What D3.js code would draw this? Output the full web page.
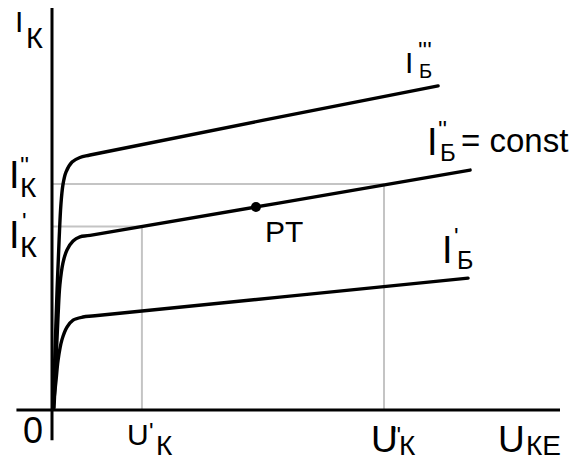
<!DOCTYPE html>
<html>
<head>
<meta charset="utf-8">
<script src="https://cdn.jsdelivr.net/npm/d3@7"></script>
<style>
  html, body { margin: 0; background: #fff; }
  svg { display: block; }
  text { font-family: "Liberation Sans", Arial, sans-serif; fill: #000; }
</style>
</head>
<body>
<svg id="chart" width="574" height="461"></svg>
<script>
// Output characteristics I_K(U_KE) of a transistor for three base currents.

// Base current I_B' (lowest curve)
const uB1 = [0.04, 0.16, 0.24, 0.39, 0.59, 0.83, 1.22, 1.69, 16.38];
const iB1 = [0.08, 1.19, 1.99, 2.79, 3.30, 3.58, 3.70, 3.75, 5.25];
// Base current I_B'' = const (middle curve, carries the operating point)
const uB2 = [0.08, 0.16, 0.24, 0.31, 0.43, 0.59, 0.83, 1.10, 1.50, 16.46];
const iB2 = [0.08, 1.99, 3.78, 4.98, 5.85, 6.37, 6.73, 6.89, 6.95, 9.55];
// Base current I_B''' (highest curve)
const uB3 = [0.04, 0.12, 0.20, 0.28, 0.35, 0.43, 0.55, 0.79, 1.10, 1.50, 15.20];
const iB3 = [0.08, 2.39, 4.78, 6.77, 8.16, 8.96, 9.47, 9.87, 10.05, 10.15, 12.90];

// Operating point PT
const uPT = 8.03;
const iPT = 8.08;
// Collector voltages U_K', U_K'' and currents I_K', I_K'' marked by guide lines
const uK = [3.54, 13.07];
const iK = [7.30, 9.00];

// Axis extents
const uAxis = [-1.4, 20];
const iAxis = [-1.2, 16];

const svg = d3.select("#chart");
const x = d3.scaleLinear().domain([0, 20]).range([52, 560]);
const y = d3.scaleLinear().domain([0, 16]).range([410, 8]);

// Guide lines from the operating values to the axes
const grid = svg.append("g").attr("stroke", "#c4c4c4").attr("stroke-width", 2);
uK.forEach((u, i) => {
  grid.append("line")
    .attr("x1", x(0)).attr("x2", x(u))
    .attr("y1", y(iK[i])).attr("y2", y(iK[i]));
  grid.append("line")
    .attr("x1", x(u)).attr("x2", x(u))
    .attr("y1", y(iK[i])).attr("y2", y(0));
});

// Axes
const axes = svg.append("g").attr("stroke", "#000").attr("stroke-width", 3);
axes.append("line")
  .attr("x1", x(uAxis[0])).attr("x2", x(uAxis[1]))
  .attr("y1", y(0)).attr("y2", y(0));
axes.append("line")
  .attr("x1", x(0)).attr("x2", x(0))
  .attr("y1", y(iAxis[0])).attr("y2", y(iAxis[1]));

// Characteristic curves
const line = d3.line()
  .x(d => x(d[0]))
  .y(d => y(d[1]))
  .curve(d3.curveCatmullRom.alpha(0.5));

[[uB1, iB1], [uB2, iB2], [uB3, iB3]].forEach(([us, is]) => {
  svg.append("path")
    .datum(us.map((u, k) => [u, is[k]]))
    .attr("d", line)
    .attr("fill", "none")
    .attr("stroke", "#000")
    .attr("stroke-width", 3.4)
    .attr("stroke-linejoin", "round")
    .attr("stroke-linecap", "round");
});

// Operating point
svg.append("circle")
  .attr("cx", x(uPT)).attr("cy", y(iPT))
  .attr("r", 5).attr("fill", "#000");

// Label as one text element: main letter, optional primes and a subscript,
// each part placed at its own absolute position.
function label(main, sub, marks) {
  const t = svg.append("text");
  t.append("tspan").attr("x", main.x).attr("y", main.y)
    .attr("font-size", main.size).text(main.text);
  if (marks) {
    t.append("tspan").attr("x", marks.x).attr("y", marks.y)
      .attr("font-size", 24).text(marks.text);
  }
  if (sub) {
    t.append("tspan").attr("x", sub.x).attr("y", sub.y)
      .attr("font-size", sub.size).text(sub.text);
  }
  return t;
}

// Axis titles
label({x: 15, y: 32, size: 30, text: "I"}, {x: 26, y: 48, size: 29, text: "К"});
label({x: x(uAxis[1]) - 62, y: 452, size: 37, text: "U"},
      {x: x(uAxis[1]) - 34, y: 455, size: 28, text: "КЕ"});
// Origin
svg.append("text").attr("x", 23).attr("y", 443).attr("font-size", 36).text("0");

// Current and voltage values on the axes
label({x: 9, y: y(iK[1]) + 4, size: 38, text: "I"},
      {x: 20, y: y(iK[1]) + 13, size: 28, text: "К"},
      {x: 20, y: 174, text: "''"});
label({x: 9, y: y(iK[0]) + 21, size: 38, text: "I"},
      {x: 20, y: y(iK[0]) + 30, size: 29, text: "К"},
      {x: 22, y: 230, text: "'"});
label({x: x(uK[0]) - 15, y: 445, size: 30, text: "U"},
      {x: x(uK[0]) + 14, y: 455, size: 28, text: "К"},
      {x: 149, y: 440, text: "'"});
label({x: x(uK[1]) - 13, y: 452, size: 37, text: "U"},
      {x: x(uK[1]) + 15, y: 455, size: 28, text: "К"},
      {x: 392, y: 444, text: "''"});

// Curve labels
label({x: 405, y: 73, size: 30, text: "I"}, {x: 419, y: 78, size: 20, text: "Б"},
      {x: 418, y: 59, text: "'''"});
label({x: 427, y: 155, size: 38, text: "I"}, {x: 440, y: 161, size: 24, text: "Б"},
      {x: 438, y: 138, text: "''"});
svg.append("text").attr("x", 461).attr("y", 152).attr("font-size", 33).text("= const");
label({x: 442, y: 263, size: 38, text: "I"}, {x: 457, y: 269, size: 25, text: "Б"},
      {x: 454, y: 245, text: "'"});

// Operating point name
svg.append("text").attr("x", 265).attr("y", 242).attr("font-size", 30).text("PT");
</script>
</body>
</html>
